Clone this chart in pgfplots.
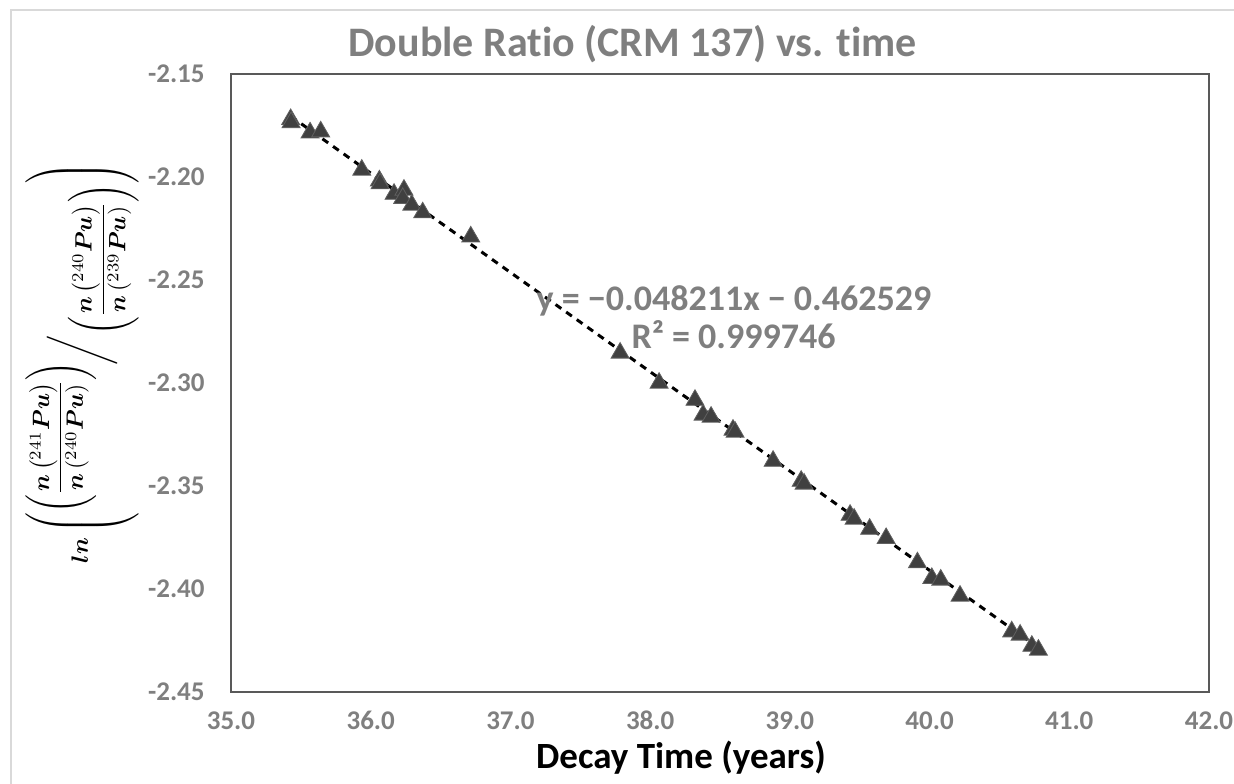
\documentclass[border=0pt]{standalone}
\usepackage{fontspec}
\setmainfont{Carlito}[Ligatures=NoCommon]
\usepackage{amsmath}
\usepackage{bm}
\usepackage{graphicx}
\usepackage{pgfplots}
\pgfplotsset{compat=1.18}

\definecolor{txtgray}{RGB}{127,127,127}
\definecolor{boxgray}{RGB}{89,89,89}
\definecolor{framegray}{RGB}{217,217,217}
\definecolor{markfill}{RGB}{64,64,64}
\definecolor{markedge}{RGB}{96,96,96}

\newcommand{\iso}[1]{\bm{n}\bm{\left(}{}^{#1}\bm{Pu}\bm{\right)}}

\begin{document}
\begin{tikzpicture}
\path[use as bounding box] (-115.5pt,-45.5pt) rectangle (501.5pt,346pt);
\draw[framegray, line width=0.8pt] (-110pt,-60pt) -- (-110pt,341pt) -- (520pt,341pt);
\begin{axis}[
    at={(0pt,0pt)}, anchor=south west,
    scale only axis,
    width=489pt, height=309pt,
    xmin=35, xmax=42,
    ymin=-2.45, ymax=-2.15,
    xtick={35,36,37,38,39,40,41,42},
    ytick={-2.45,-2.40,-2.35,-2.30,-2.25,-2.20,-2.15},
    major tick length=0pt,
    axis line style={boxgray, line width=1pt},
    /pgf/number format/assume math mode=true,
    xticklabel style={/pgf/number format/fixed, /pgf/number format/fixed zerofill,
        /pgf/number format/precision=1,
        font=\bfseries\fontsize{13.5}{16}\selectfont, text=txtgray,
        anchor=base, inner sep=0pt, yshift=-18.5pt},
    yticklabel style={/pgf/number format/fixed, /pgf/number format/fixed zerofill,
        /pgf/number format/precision=2,
        font=\bfseries\fontsize{13.5}{16}\selectfont, text=txtgray,
        anchor=east, inner sep=0pt, xshift=-13pt},
    clip=false,
]
% measured points
\addplot[only marks, mark=triangle*, mark size=5.2pt,
    mark options={fill=markfill, draw=markedge, line width=0.4pt}] coordinates {
    (35.427,-2.1720) (35.430,-2.1735) (35.566,-2.1785) (35.642,-2.1780)
    (35.936,-2.1966) (36.062,-2.2018) (36.067,-2.2032) (36.167,-2.2083)
    (36.238,-2.2063) (36.229,-2.2103) (36.294,-2.2136) (36.372,-2.2173)
    (36.716,-2.2290) (37.785,-2.2854) (38.064,-2.3000) (38.321,-2.3083)
    (38.379,-2.3155) (38.436,-2.3165) (38.593,-2.3228) (38.608,-2.3238)
    (38.880,-2.3379) (39.081,-2.3476) (39.102,-2.3490) (39.431,-2.3641)
    (39.460,-2.3660) (39.571,-2.3709) (39.689,-2.3754) (39.913,-2.3872)
    (40.016,-2.3948) (40.080,-2.3956) (40.218,-2.4034) (40.588,-2.4207)
    (40.648,-2.4223) (40.732,-2.4277) (40.779,-2.4296)
};
% linear trendline
\addplot[black, line width=1.5pt, dash pattern=on 3.5pt off 3pt] coordinates {
    (35.427,-2.1705) (40.779,-2.4285)
};
\end{axis}
\node[anchor=base, text=txtgray, font=\bfseries\fontsize{21}{25}\selectfont]
    at (200.75pt,317.6pt) {Double Ratio (CRM 137) vs. time};
\node[anchor=base, text=black, font=\bfseries\fontsize{18.5}{22}\selectfont]
    at (225pt,-38pt) {Decay Time (years)};
\node[anchor=base, text=txtgray, font=\bfseries\fontsize{18}{21}\selectfont]
    at (251.5pt,191pt) {y = −0.048211x − 0.462529};
\node[anchor=base, text=txtgray, font=\bfseries\fontsize{18}{21}\selectfont]
    at (251.25pt,172pt) {R² = 0.999746};
\node[rotate=90, inner sep=0pt] at (-74.5pt,164.5pt) {\resizebox{200pt}{!}{$\bm{ln}\bm{\left(}\raisebox{0.9em}{$\bm{\left(}\dfrac{\iso{241}}{\iso{240}}\bm{\right)}$}\!\bm{\Bigg/}\raisebox{-0.9em}{$\bm{\left(}\dfrac{\iso{240}}{\iso{239}}\bm{\right)}$}\bm{\right)}$}};
\end{tikzpicture}
\end{document}
